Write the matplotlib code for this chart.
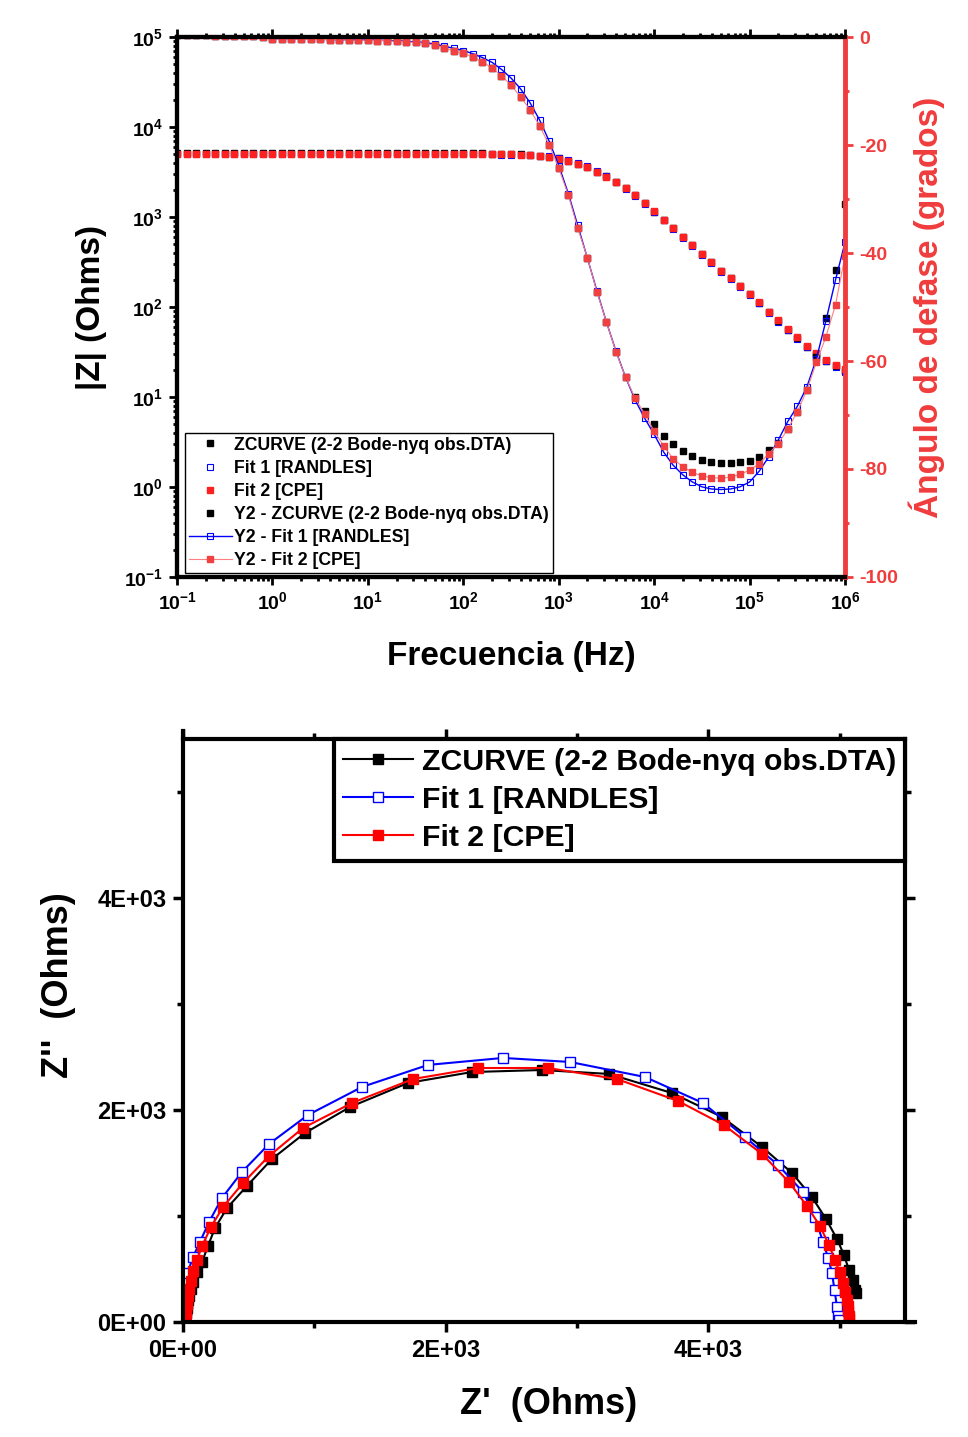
import numpy as np
import matplotlib
matplotlib.use("Agg")
import matplotlib.pyplot as plt
from matplotlib.ticker import FuncFormatter, LogLocator, MultipleLocator, NullFormatter, FixedLocator

plt.rcParams["font.family"] = ["Liberation Sans", "DejaVu Sans"]
plt.rcParams["font.weight"] = "bold"
plt.rcParams["axes.labelweight"] = "bold"
plt.rcParams["axes.unicode_minus"] = False
plt.rcParams["mathtext.fontset"] = "custom"
plt.rcParams["mathtext.rm"] = "Liberation Sans:bold"
plt.rcParams["mathtext.bf"] = "Liberation Sans:bold"
plt.rcParams["mathtext.default"] = "bf"

# ── Bode data (10 points / decade, 0.1 Hz .. 1 MHz) ───────────────────────────
freq_hz = [
    0.1, 0.126, 0.158, 0.2, 0.251, 0.316, 0.398, 0.501, 0.631, 0.794,
    1.0, 1.26, 1.58, 2.0, 2.51, 3.16, 3.98, 5.01, 6.31, 7.94,
    10, 12.6, 15.8, 20, 25.1, 31.6, 39.8, 50.1, 63.1, 79.4,
    100, 126, 158, 200, 251, 316, 398, 501, 631, 794,
    1e3, 1.26e3, 1.58e3, 2e3, 2.51e3, 3.16e3, 3.98e3, 5.01e3, 6.31e3, 7.94e3,
    1e4, 1.26e4, 1.58e4, 2e4, 2.51e4, 3.16e4, 3.98e4, 5.01e4, 6.31e4, 7.94e4,
    1e5, 1.26e5, 1.58e5, 2e5, 2.51e5, 3.16e5, 3.98e5, 5.01e5, 6.31e5, 7.94e5,
    1e6,
]

zmod_data = [
    5125, 5125, 5124, 5124, 5124, 5123, 5123, 5123, 5122, 5122,
    5121, 5121, 5120, 5120, 5119, 5118, 5117, 5116, 5115, 5113,
    5112, 5111, 5110, 5109, 5108, 5107, 5105, 5103, 5101, 5098,
    5095, 5088, 5078, 5064, 5045, 5018, 4962, 4900, 4790, 4680,
    4470, 4220, 3890, 3590, 3200, 2820, 2430, 2090, 1760, 1430,
    1150, 933, 750, 603, 484, 389, 316, 251, 209, 170,
    138, 112, 88.1, 70.0, 56.2, 45.2, 36.3, 29.9, 25.4, 22.1,
    19.5,
]
zmod_fit1 = [
    5000, 5000, 5000, 5000, 5000, 5000, 5000, 5000, 5000, 5000,
    5000, 5000, 5000, 5000, 5000, 5000, 5000, 5000, 5000, 5000,
    5000, 5000, 5000, 5000, 4999, 4999, 4998, 4997, 4996, 4994,
    4991, 4986, 4978, 4966, 4948, 4920, 4880, 4830, 4790, 4720,
    4560, 4330, 4000, 3650, 3240, 2830, 2420, 2060, 1720, 1400,
    1130, 915, 735, 591, 474, 381, 310, 246, 205, 167,
    135, 110, 86.3, 68.6, 55.0, 44.3, 35.6, 29.3, 24.9, 21.7,
    19.0,
]
zmod_fit2 = [
    5075, 5075, 5075, 5075, 5075, 5075, 5075, 5075, 5074, 5074,
    5074, 5074, 5074, 5073, 5073, 5073, 5072, 5072, 5071, 5070,
    5069, 5068, 5067, 5066, 5065, 5063, 5061, 5058, 5055, 5052,
    5050, 5044, 5036, 5024, 5008, 4985, 4945, 4880, 4775, 4665,
    4465, 4215, 3885, 3585, 3195, 2815, 2428, 2088, 1758, 1430,
    1152, 935, 752, 604, 485, 390, 317, 252, 210, 171,
    139, 113, 89, 71, 57, 46, 37, 30.5, 25.8, 22.8,
    20.5,
]

phase_data = [
    0.3, 0.3, 0.3, 0.3, 0.2, 0.2, 0.2, 0.1, 0.1, 0.0,
    -0.3, -0.35, -0.4, -0.4, -0.45, -0.45, -0.5, -0.5, -0.55, -0.6,
    -0.6, -0.65, -0.7, -0.8, -0.9, -1.0, -1.2, -1.5, -2.0, -2.6,
    -3.0, -3.7, -4.6, -5.7, -7.2, -8.9, -11.1, -13.5, -16.5, -20.0,
    -24.3, -29.3, -35.4, -40.9, -47.2, -52.8, -58.3, -63.0, -66.7, -69.3,
    -71.7, -73.9, -75.4, -76.7, -77.6, -78.3, -78.7, -78.9, -78.9, -78.7,
    -78.5, -77.8, -76.5, -75.2, -72.6, -69.4, -65.4, -59.3, -52.0, -43.1,
    -31.0,
]
phase_fit1 = [
    0.3, 0.3, 0.3, 0.3, 0.2, 0.2, 0.2, 0.1, 0.1, 0.0,
    -0.3, -0.3, -0.35, -0.4, -0.4, -0.45, -0.45, -0.5, -0.5, -0.55,
    -0.55, -0.6, -0.65, -0.7, -0.8, -0.9, -1.05, -1.3, -1.7, -2.1,
    -2.5, -3.1, -3.8, -4.7, -6.0, -7.6, -9.6, -12.2, -15.4, -19.3,
    -23.8, -29.0, -34.9, -41.0, -47.0, -52.8, -58.2, -63.0, -67.2, -70.6,
    -73.6, -76.9, -79.3, -81.1, -82.4, -83.3, -83.7, -83.8, -83.7, -83.3,
    -82.4, -80.4, -77.8, -74.6, -71.2, -68.4, -64.8, -59.6, -52.5, -45.0,
    -38.0,
]
phase_fit2 = [
    0.3, 0.3, 0.3, 0.3, 0.2, 0.2, 0.2, 0.1, 0.1, 0.0,
    -0.3, -0.35, -0.4, -0.4, -0.45, -0.45, -0.5, -0.5, -0.55, -0.6,
    -0.6, -0.65, -0.7, -0.8, -0.9, -1.0, -1.2, -1.5, -2.0, -2.6,
    -3.0, -3.7, -4.6, -5.7, -7.2, -8.9, -11.1, -13.5, -16.5, -20.0,
    -24.3, -29.3, -35.4, -40.9, -47.2, -52.8, -58.3, -63.0, -66.9, -69.8,
    -73.0, -75.8, -78.1, -79.6, -80.6, -81.3, -81.6, -81.7, -81.5, -81.0,
    -80.2, -79.0, -77.2, -75.3, -72.6, -69.4, -65.4, -60.2, -55.5, -49.6,
    -40.5,
]

# ── Nyquist data (high frequency -> low frequency) ───────────────────────────
nyq_data_re = [17, 16, 16, 15, 15, 16, 17, 18, 21, 24,
               28, 33, 40, 48, 62, 79, 104, 145, 190, 244,
               335, 487, 678, 929, 1272, 1714, 2201, 2734, 3244, 3724,
               4105, 4410, 4638, 4790, 4897, 4981, 5034, 5072, 5103, 5118, 5122]
nyq_data_im = [10, 15, 20, 26, 33, 42, 54, 68, 86, 110,
               135, 167, 205, 246, 310, 381, 473, 566, 717, 887,
               1075, 1283, 1538, 1783, 2028, 2255, 2358, 2377, 2340, 2160,
               1934, 1651, 1406, 1179, 972, 783, 632, 491, 396, 302, 275]

nyq_fit1_re = [15, 15, 15, 15, 15, 16, 17, 17, 18, 18,
               18, 19, 21, 23, 26, 30, 35, 76, 129, 198,
               297, 449, 655, 952, 1363, 1866, 2437, 2947, 3519, 3960,
               4280, 4532, 4722, 4813, 4874, 4915, 4943, 4962, 4981, 4992, 4998]
nyq_fit1_im = [12, 15, 20, 25, 32, 41, 52, 66, 84, 108,
               134, 166, 204, 245, 308, 380, 462, 613, 755, 943,
               1170, 1415, 1679, 1953, 2217, 2425, 2491, 2453, 2311, 2066,
               1745, 1481, 1226, 991, 755, 600, 462, 300, 142, 60, 15]

nyq_fit2_re = [16, 15, 15, 15, 15, 16, 17, 18, 20, 22,
               24, 27, 31, 36, 46, 59, 79, 107, 145, 213,
               305, 457, 655, 914, 1287, 1752, 2247, 2780, 3305, 3770,
               4120, 4410, 4615, 4752, 4851, 4920, 4966, 5000, 5025, 5042,
               5055, 5063, 5068, 5071, 5073]
nyq_fit2_im = [13, 17, 21, 27, 34, 43, 54, 69, 87, 111,
               137, 169, 208, 249, 314, 386, 478, 585, 717, 896,
               1085, 1311, 1566, 1830, 2066, 2292, 2396, 2396, 2292, 2085,
               1858, 1585, 1321, 1094, 906, 726, 585, 470, 370, 280,
               210, 150, 100, 60, 25]

lbl_data = "ZCURVE (2-2 Bode-nyq obs.DTA)"
lbl_fit1 = "Fit 1 [RANDLES]"
lbl_fit2 = "Fit 2 [CPE]"

RED = "#f03c3c"
BLUE = "#0000ff"

fig = plt.figure(figsize=(9.68, 14.37), dpi=100)

# ── Bode ─────────────────────────────────────────────────────────────────────
ax1 = fig.add_axes([0.1829, 0.59847, 0.6901, 0.37578])
ax2 = ax1.twinx()

h1, = ax1.plot(freq_hz, zmod_data, ls="none", marker="s", ms=5, color="black", label=lbl_data)
h2, = ax1.plot(freq_hz, zmod_fit1, ls="none", marker="s", ms=4.5, mfc="none", mec=BLUE, mew=0.8, label=lbl_fit1)
h3, = ax1.plot(freq_hz, zmod_fit2, ls="none", marker="s", ms=5, color="#ff2020", label=lbl_fit2)

h4, = ax2.plot(freq_hz, phase_data, ls="none", marker="s", ms=5, color="black", label="Y2 - " + lbl_data)
h5, = ax2.plot(freq_hz, phase_fit1, ls="-", lw=1.0, color=BLUE, marker="s", ms=4.5, mfc="none", mec=BLUE, mew=0.8,
               label="Y2 - " + lbl_fit1)
h6, = ax2.plot(freq_hz, phase_fit2, ls="-", lw=0.8, color="#ff8080", marker="s", ms=5, mfc="#f04040", mec="#f04040",
               label="Y2 - " + lbl_fit2)

ax1.set_xscale("log")
ax1.set_yscale("log")
ax1.set_xlim(0.1, 1e6)
ax1.set_ylim(0.1, 1e5)
ax2.set_ylim(-100, 0)

fmt_pow = FuncFormatter(lambda v, p: r"$\mathbf{10^{%d}}$" % int(round(np.log10(v))))
ax1.xaxis.set_major_locator(LogLocator(base=10, numticks=20))
ax1.xaxis.set_minor_locator(LogLocator(base=10, subs=np.arange(2, 10), numticks=20))
ax1.yaxis.set_major_locator(LogLocator(base=10, numticks=20))
ax1.yaxis.set_minor_locator(LogLocator(base=10, subs=np.arange(2, 10), numticks=20))
ax1.xaxis.set_major_formatter(fmt_pow)
ax1.yaxis.set_major_formatter(fmt_pow)
ax1.xaxis.set_minor_formatter(NullFormatter())
ax1.yaxis.set_minor_formatter(NullFormatter())

ax1.tick_params(which="both", direction="out", top=True, right=False, width=2, labelsize=14)
ax1.tick_params(which="major", length=6, pad=4)
ax1.tick_params(which="minor", length=3)

ax2.yaxis.set_major_locator(MultipleLocator(20))
ax2.yaxis.set_minor_locator(MultipleLocator(10))
ax2.tick_params(axis="y", which="both", direction="out", colors=RED, width=2, labelsize=14)
ax2.tick_params(axis="y", which="major", length=6, pad=4)
ax2.tick_params(axis="y", which="minor", length=3)

for s in ["left", "bottom", "top"]:
    ax1.spines[s].set_linewidth(3)
    ax2.spines[s].set_linewidth(3)
ax1.spines["right"].set_visible(False)
ax2.spines["right"].set_linewidth(3.5)
ax2.spines["right"].set_color(RED)

ax1.set_xlabel("Frecuencia (Hz)", fontsize=24, labelpad=20)
ax1.set_ylabel("|Z| (Ohms)", fontsize=24, labelpad=12)
ax2.set_ylabel("Ángulo de defase (grados)", fontsize=24, color=RED, labelpad=8)

leg1 = ax2.legend(handles=[h1, h2, h3, h4, h5, h6], loc="lower left", bbox_to_anchor=(0.012, 0.0074),
                  borderaxespad=0, fancybox=False, framealpha=1, edgecolor="black",
                  prop={"size": 12.7, "weight": "bold"}, handlelength=2.45, handletextpad=0.15,
                  borderpad=0.2, labelspacing=0.35, numpoints=1)
leg1.get_frame().set_linewidth(1.0)

# ── Nyquist ──────────────────────────────────────────────────────────────────
ax3 = fig.add_axes([0.18905, 0.08003, 0.7562, 0.41127])

n1, = ax3.plot(nyq_data_re, nyq_data_im, "-", color="black", lw=1.5, marker="s", ms=7, label=lbl_data)
n2, = ax3.plot(nyq_fit1_re, nyq_fit1_im, "-", color=BLUE, lw=1.5, marker="s", ms=7, mfc="white", mec=BLUE,
               mew=1.0, label=lbl_fit1)
n3, = ax3.plot(nyq_fit2_re, nyq_fit2_im, "-", color="#ff0000", lw=1.5, marker="s", ms=7, label=lbl_fit2)

ax3.set_xlim(0, 5575)
ax3.set_ylim(0, 5575)
ax3.xaxis.set_major_locator(FixedLocator([0, 2000, 4000]))
ax3.yaxis.set_major_locator(FixedLocator([0, 2000, 4000]))
ax3.xaxis.set_minor_locator(FixedLocator([1000, 3000, 5000]))
ax3.yaxis.set_minor_locator(FixedLocator([1000, 3000, 5000]))
sci_labels = {0: "0E+00", 2000: "2E+03", 4000: "4E+03"}
ax3.xaxis.set_major_formatter(FuncFormatter(lambda v, p: sci_labels.get(int(round(v)), "")))
ax3.yaxis.set_major_formatter(FuncFormatter(lambda v, p: sci_labels.get(int(round(v)), "")))

for s in ax3.spines.values():
    s.set_linewidth(3)
ax3.spines["top"].set_position(("data", 5500))
ax3.spines["top"].set_bounds(0, 5500)
ax3.spines["right"].set_position(("data", 5500))
ax3.spines["right"].set_bounds(0, 5500)

ax3.tick_params(which="both", direction="out", top=True, right=True, width=2.5, labelsize=17)
ax3.tick_params(which="major", length=7, pad=5)
ax3.tick_params(which="minor", length=4)

ax3.set_xlabel("Z'  (Ohms)", fontsize=26, labelpad=18)
ax3.set_ylabel("Z''  (Ohms)", fontsize=26)
ax3.yaxis.set_label_coords(-0.146, 0.57)

leg2 = ax3.legend(handles=[n1, n2, n3], loc="upper right", bbox_to_anchor=(5500, 5500),
                  bbox_transform=ax3.transData, borderaxespad=0, fancybox=False, framealpha=1,
                  edgecolor="black", prop={"size": 21.8, "weight": "bold"}, handlelength=2.3,
                  handletextpad=0.3, borderpad=0.3, labelspacing=0.33, numpoints=1)
leg2.get_frame().set_linewidth(3)

fig.savefig("out.png", dpi=100)
